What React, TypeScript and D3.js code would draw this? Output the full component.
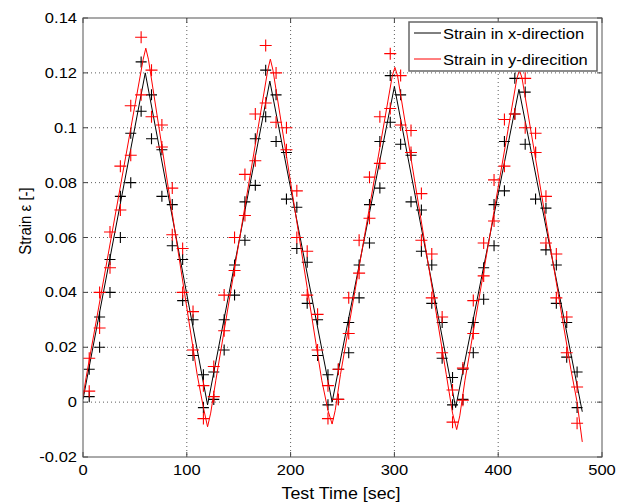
import React from "react";
import * as d3 from "d3";

// ---- data ----
const blackLineT = [0, 60, 120, 180, 240, 300, 359, 420, 481];
const blackLineV = [0.001, 0.12, -0.001, 0.117, 0.0, 0.115, -0.002, 0.114, -0.0035];

const redLineT = [0, 3, 58, 60.5, 63, 110, 116, 120, 123, 128, 178, 180.5, 183, 230, 236, 240, 243, 248, 298, 300.5, 303, 350, 356, 360, 363, 368, 418, 420.5, 423, 470, 476, 481];
const redLineV = [0.002, 0.009, 0.125, 0.129, 0.125, 0.01, -0.002, -0.009, -0.004, 0.008, 0.121, 0.125, 0.121, 0.008, -0.003, -0.008, -0.003, 0.01, 0.119, 0.122, 0.119, 0.01, -0.004, -0.01, -0.005, 0.008, 0.118, 0.121, 0.118, 0.012, 0.0, -0.0145];

const markerT = [
  6, 16, 26, 36, 46, 56, 66, 76, 86, 96, 106, 116,
  126, 136, 146, 156, 166, 176, 186, 196, 206, 216, 226, 236,
  246, 256, 266, 276, 286, 296, 306, 316, 326, 336, 346, 356,
  366, 376, 386, 396, 406, 416, 426, 436, 446, 456, 466, 476,
];
const blackMarkA = [
  0.012, 0.02, 0.04, 0.06, 0.08, 0.106, 0.112, 0.092, 0.072, 0.052, 0.03, 0.01,
  0.011, 0.019, 0.039, 0.059, 0.079, 0.104, 0.112, 0.091, 0.071, 0.051, 0.03, 0.01,
  0.012, 0.018, 0.038, 0.058, 0.078, 0.102, 0.112, 0.09, 0.07, 0.05, 0.029, 0.009,
  0.012, 0.018, 0.0375, 0.057, 0.077, 0.105, 0.113, 0.091, 0.0707, 0.05, 0.029, 0.011,
];
const blackMarkB = [
  0.002, 0.031, 0.052, 0.075, 0.098, 0.124, 0.096, 0.075, 0.057, 0.037, 0.017, -0.002,
  0.001, 0.03, 0.05, 0.073, 0.096, 0.121, 0.095, 0.074, 0.056, 0.036, 0.017, -0.001,
  0.001, 0.029, 0.05, 0.072, 0.095, 0.119, 0.094, 0.073, 0.055, 0.036, 0.016, -0.001,
  0.001, 0.029, 0.049, 0.072, 0.095, 0.118, 0.094, 0.074, 0.0555, 0.036, 0.0164, -0.002,
];
const redMarkA = [
  0.016, 0.027, 0.049, 0.07, 0.09, 0.112, 0.121, 0.101, 0.078, 0.056, 0.033, 0.006,
  0.013, 0.026, 0.048, 0.068, 0.088, 0.109, 0.12, 0.1, 0.077, 0.055, 0.032, 0.006,
  0.012, 0.025, 0.047, 0.067, 0.087, 0.107, 0.119, 0.099, 0.076, 0.054, 0.031, 0.0044,
  0.0124, 0.025, 0.046, 0.066, 0.086, 0.105, 0.118, 0.098, 0.075, 0.054, 0.031, 0.0055,
];
const redMarkB = [
  0.004, 0.04, 0.062, 0.086, 0.108, 0.133, 0.104, 0.093, 0.061, 0.04, 0.019, -0.006,
  0.002, 0.039, 0.06, 0.083, 0.105, 0.13, 0.102, 0.092, 0.06, 0.039, 0.019, -0.006,
  0.001, 0.038, 0.059, 0.082, 0.104, 0.127, 0.101, 0.091, 0.059, 0.038, 0.018, -0.0073,
  0.0007, 0.037, 0.058, 0.081, 0.103, 0.125, 0.1, 0.091, 0.058, 0.038, 0.018, -0.0077,
];

const xTicks = [0, 100, 200, 300, 400, 500];
const yTicks = [-0.02, 0, 0.02, 0.04, 0.06, 0.08, 0.1, 0.12, 0.14];
const yTickLabels = ["-0.02", "0", "0.02", "0.04", "0.06", "0.08", "0.1", "0.12", "0.14"];
const legendLabels = ["Strain in x-direction", "Strain in y-direcition"];
const seriesColors = ["#000000", "#ff0000"];

const W = 624;
const H = 502;
const L = 83, R = 602, T = 18, B = 457;
const FONT = "'Liberation Sans', Arial, Helvetica, sans-serif";

export default function App() {
  const x = d3.scaleLinear().domain([0, 500]).range([L, R]);
  const y = d3.scaleLinear().domain([-0.02, 0.14]).range([B, T]);
  const line = d3
    .line<[number, number]>()
    .x((d) => x(d[0]))
    .y((d) => y(d[1]));
  const blackPts = blackLineT.map((t, i) => [t, blackLineV[i]] as [number, number]);
  const redPts = redLineT.map((t, i) => [t, redLineV[i]] as [number, number]);

  const plus = (cx: number, cy: number, s: number, color: string, key: string) => (
    <path
      key={key}
      d={`M${cx - s},${cy}H${cx + s}M${cx},${cy - s}V${cy + s}`}
      stroke={color}
      strokeWidth={1.1}
      fill="none"
    />
  );

  return (
    <svg
      width={W}
      height={H}
      style={{ position: "absolute", left: 0, top: 0, background: "#fff" }}
      fontFamily={FONT}
    >
      <rect x={0} y={0} width={W} height={H} fill="#fff" />
      <defs>
        <clipPath id="plotclip">
          <rect x={L} y={T} width={R - L} height={B - T} />
        </clipPath>
        <clipPath id="xlabclip">
          <rect x={0} y={470} width={401} height={32} />
        </clipPath>
      </defs>
      {/* grid */}
      {xTicks.slice(1, -1).map((t) => (
        <line key={"gx" + t} x1={x(t)} x2={x(t)} y1={T} y2={B} stroke="#333" strokeWidth={0.8} strokeDasharray="1,3" />
      ))}
      {yTicks.slice(1, -1).map((t) => (
        <line key={"gy" + t} x1={L} x2={R} y1={y(t)} y2={y(t)} stroke="#333" strokeWidth={0.8} strokeDasharray="1,3" />
      ))}
      {/* ticks */}
      {xTicks.map((t) => (
        <g key={"tx" + t}>
          <line x1={x(t)} x2={x(t)} y1={B} y2={B - 5} stroke="#444" />
          <line x1={x(t)} x2={x(t)} y1={T} y2={T + 5} stroke="#444" />
        </g>
      ))}
      {yTicks.map((t) => (
        <g key={"ty" + t}>
          <line x1={L} x2={L + 5} y1={y(t)} y2={y(t)} stroke="#444" />
          <line x1={R} x2={R - 5} y1={y(t)} y2={y(t)} stroke="#444" />
        </g>
      ))}
      <g clipPath="url(#plotclip)">
        <path d={line(blackPts) || ""} stroke="#000" strokeWidth={1} fill="none" />
        {markerT.map((t, i) => plus(x(t), y(blackMarkA[i]), 5.5, "#000", "ba" + i))}
        {markerT.map((t, i) => plus(x(t), y(blackMarkB[i]), 5.5, "#000", "bb" + i))}
        <path d={line(redPts) || ""} stroke="#ff0000" strokeWidth={1} fill="none" />
        {markerT.map((t, i) => plus(x(t), y(redMarkA[i]), 6, "#ff0000", "ra" + i))}
        {markerT.map((t, i) => plus(x(t), y(redMarkB[i]), 6, "#ff0000", "rb" + i))}
      </g>
      {/* box */}
      <rect x={L} y={T} width={R - L} height={B - T} fill="none" stroke="#555" strokeWidth={1} />
      {/* tick labels */}
      {xTicks.map((t) => (
        <text
          key={"lx" + t}
          transform={`translate(${x(t)},475) scale(1.18,1)`}
          textAnchor="middle"
          fontSize={14}
          fill="#000"
        >
          {t}
        </text>
      ))}
      {yTicks.map((t, i) => (
        <text
          key={"ly" + t}
          transform={`translate(77,${y(t) + 5}) scale(1.18,1)`}
          textAnchor="end"
          fontSize={14}
          fill="#000"
        >
          {yTickLabels[i]}
        </text>
      ))}
      {/* axis labels */}
      <g clipPath="url(#xlabclip)">
        <text transform={`translate(341,499) scale(1.05,1)`} textAnchor="middle" fontSize={17} fill="#000">
          Test Time [sec]
        </text>
      </g>
      <text transform={`translate(31,221) scale(1.15,1) rotate(-90)`} textAnchor="middle" fontSize={15} fill="#000">
        Strain ε [-]
      </text>
      {/* legend */}
      <rect x={409} y={22} width={188} height={49} fill="#fff" stroke="#666" strokeWidth={1.5} />
      {legendLabels.map((lab, i) => (
        <g key={"leg" + i}>
          <line x1={414} x2={441} y1={33 + i * 26} y2={33 + i * 26} stroke={seriesColors[i]} strokeWidth={1} />
          <text transform={`translate(443,${38.5 + i * 26}) scale(1.1,1)`} fontSize={15} fill="#000">
            {lab}
          </text>
        </g>
      ))}
    </svg>
  );
}
